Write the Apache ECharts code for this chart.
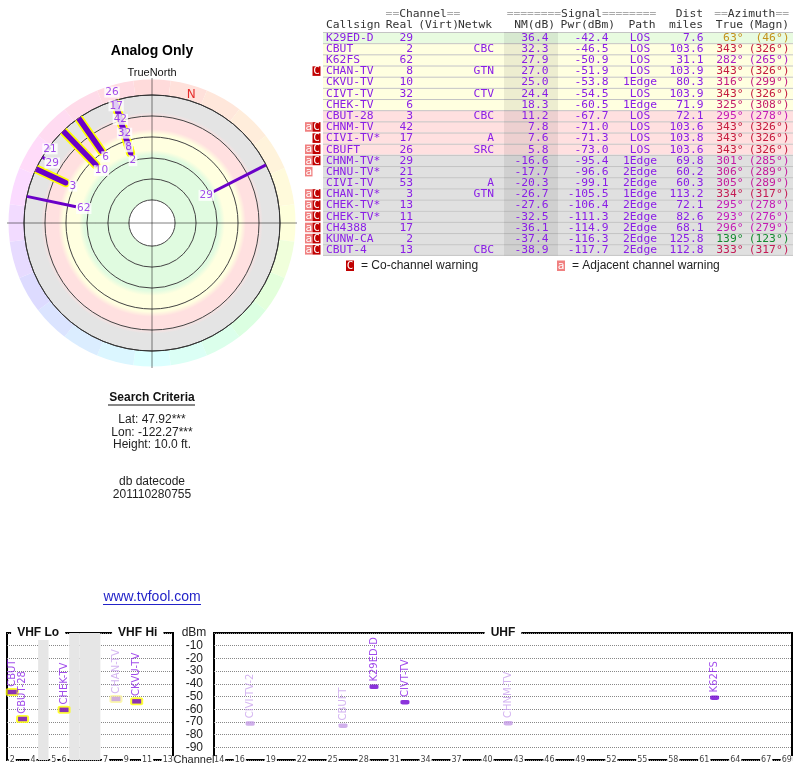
<!DOCTYPE html>
<html>
<head>
<meta charset="utf-8">
<script src="https://cdn.jsdelivr.net/npm/echarts@6/dist/echarts.min.js"></script>
<style>
html, body { margin: 0; padding: 0; background: #fff; }
#chart { width: 800px; height: 768px; }
</style>
</head>
<body>
<div id="chart"></div>
<script>
// station table, in the order of the listing
var callsigns = ['K29ED-D', 'CBUT', 'K62FS', 'CHAN-TV', 'CKVU-TV', 'CIVT-TV', 'CHEK-TV', 'CBUT-28', 'CHNM-TV', 'CIVI-TV*',
                 'CBUFT', 'CHNM-TV*', 'CHNU-TV*', 'CIVI-TV', 'CHAN-TV*', 'CHEK-TV*', 'CHEK-TV*', 'CH4388', 'KUNW-CA', 'CBUT-4'];
var realCh   = [29, 2, 62, 8, 10, 32, 6, 3, 42, 17, 26, 29, 21, 53, 3, 13, 11, 17, 2, 13];
var networks = ['', 'CBC', '', 'GTN', '', 'CTV', '', 'CBC', '', 'A', 'SRC', '', '', 'A', 'GTN', '', '', '', '', 'CBC'];
var nmDb     = [36.4, 32.3, 27.9, 27.0, 25.0, 24.4, 18.3, 11.2, 7.8, 7.6, 5.8, -16.6, -17.7, -20.3, -26.7, -27.6, -32.5, -36.1, -37.4, -38.9];
var pwrDbm   = [-42.4, -46.5, -50.9, -51.9, -53.8, -54.5, -60.5, -67.7, -71.0, -71.3, -73.0, -95.4, -96.6, -99.1, -105.5, -106.4, -111.3, -114.9, -116.3, -117.7];
var paths    = ['LOS', 'LOS', 'LOS', 'LOS', '1Edge', 'LOS', '1Edge', 'LOS', 'LOS', 'LOS', 'LOS', '1Edge', '2Edge', '2Edge', '1Edge', '2Edge', '2Edge', '2Edge', '2Edge', '2Edge'];
var distMi   = [7.6, 103.6, 31.1, 103.9, 80.3, 103.9, 71.9, 72.1, 103.6, 103.8, 103.6, 69.8, 60.2, 60.3, 113.2, 72.1, 82.6, 68.1, 125.8, 112.8];
var azTrue   = [63, 343, 282, 343, 316, 343, 325, 295, 343, 343, 343, 301, 306, 305, 334, 295, 293, 296, 139, 333];
var azMagn   = [46, 326, 265, 326, 299, 326, 308, 278, 326, 326, 326, 285, 289, 289, 317, 278, 276, 279, 123, 317];
var warnings = ['', '', '', 'C', '', '', '', '', 'aC', 'C', 'aC', 'aC', 'a', '', 'aC', 'aC', 'aC', 'aC', 'aC', 'aC'];

// NM thresholds of the colour bands and the radar rings
var NM_GREEN = 35, NM_YELLOW = 15, NM_PINK = 0, NM_INNER = 80;
var R_MIN = -20, R_MAX = 102, RING_STEP = 20;

// spectrum axes
var vhfSlots = ['2', '3', '4', 'gap', '5', '6', 'gap', 'gap', 'gap', '7', '8', '9', '10', '11', '12', '13'];
var vhfTickLabels = ['2', '4', '5', '6', '7', '9', '11', '13'];
var uhfTickLabels = ['14', '16', '19', '22', '25', '28', '31', '34', '37', '40', '43', '46', '49', '52', '55', '58', '61', '64', '67', '69'];
var uhfSlots = [];
for (var c = 14; c <= 69; c++) uhfSlots.push(String(c));

var MONO = '"DejaVu Sans Mono"', SANS = '"Liberation Sans"';
var PURPLE = '#8a1ee6', PALE = '#c9a2ee', LINE = '#6a00c8';
var CX = 152, CY = 223, R = 128, RING = 143.5;
var PX = R / (R_MAX - R_MIN);

function hueOf(az) {
  var a = [[0, 0], [63, 42], [90, 62], [135, 130], [180, 180], [225, 225], [270, 278], [300, 310], [343, 348], [360, 360]];
  for (var i = 1; i < a.length; i++) {
    if (az <= a[i][0]) {
      var t = (az - a[i - 1][0]) / (a[i][0] - a[i - 1][0]);
      return a[i - 1][1] + t * (a[i][1] - a[i - 1][1]);
    }
  }
  return 0;
}
function azColor(az) {
  var h = hueOf(az);
  var g = Math.max(0, Math.cos((h - 130) * Math.PI / 180));
  return 'hsl(' + h.toFixed(0) + ',75%,' + (44 - 13 * g).toFixed(0) + '%)';
}
function bandColor(nm) {
  if (nm >= NM_GREEN) return '#e8fbe0';
  if (nm >= NM_YELLOW) return '#ffffe0';
  if (nm >= NM_PINK) return '#ffe0e0';
  return '#e0e0e0';
}
function frac(nm) { return (R_MAX - nm) / (R_MAX - R_MIN); }

// ---------- radar: band background and hue ring
var bandStops = [
  { offset: 0, color: '#ffffff' },
  { offset: frac(NM_INNER), color: '#ffffff' },
  { offset: frac(NM_INNER) + 0.003, color: '#e0fbe0' },
  { offset: frac(NM_GREEN) - 0.02, color: '#e0fbe0' },
  { offset: frac(NM_GREEN) + 0.02, color: '#ffffe0' },
  { offset: frac(NM_YELLOW) - 0.02, color: '#ffffe0' },
  { offset: frac(NM_YELLOW) + 0.02, color: '#ffe0e0' },
  { offset: frac(NM_PINK) - 0.01, color: '#ffe0e0' },
  { offset: frac(NM_PINK) + 0.03, color: '#e4e4e4' },
  { offset: 1, color: '#e4e4e4' }
];
var hueData = [];
for (var k = 0; k < 24; k++) {
  hueData.push({ value: 1, itemStyle: { color: 'hsl(' + hueOf(k * 15).toFixed(0) + ',100%,93%)' } });
}

var series = [
  { type: 'pie', center: [CX, CY], radius: [0, R], silent: true, z: 1, animation: false,
    label: { show: false }, labelLine: { show: false },
    itemStyle: { borderWidth: 0 },
    data: [{ value: 1, itemStyle: { color: { type: 'radial', x: 0.5, y: 0.5, r: 0.5, colorStops: bandStops } } }] },
  { type: 'pie', center: [CX, CY], radius: [R, RING], startAngle: 97.5, silent: true, z: 1, animation: false,
    label: { show: false }, labelLine: { show: false },
    itemStyle: { borderWidth: 0 }, data: hueData }
];

// ---------- radar: station lines
var drawn = [];
nmDb.forEach(function (nm, i) { if (nm > R_MIN) drawn.push(i); });
drawn.forEach(function (i) {
  var seg = [[R_MIN, azTrue[i]], [nmDb[i], azTrue[i]]];
  var base = { type: 'line', coordinateSystem: 'polar', polarIndex: 0, data: seg, symbol: 'none',
               silent: true, clip: false, animation: false };
  if (realCh[i] <= 13) {
    series.push(Object.assign({}, base, { z: 3, lineStyle: { color: '#ffff00', width: 9, cap: 'round' } }));
    series.push(Object.assign({}, base, { z: 4, lineStyle: { color: LINE, width: 5.5, cap: 'round' } }));
  } else {
    series.push(Object.assign({}, base, { z: 5, lineStyle: { color: LINE, width: 3, cap: 'butt' } }));
  }
});

// channel labels at the inner end of each line, pushed outward where they collide
var order = drawn.slice().sort(function (a, b) { return nmDb[b] - nmDb[a]; });
var placed = [], labelData = [];
function gap(r1, a1, r2, a2) {
  var d = (a1 - a2) * Math.PI / 180;
  return Math.sqrt(r1 * r1 + r2 * r2 - 2 * r1 * r2 * Math.cos(d));
}
order.forEach(function (i) {
  var r = (R_MAX - nmDb[i]) * PX - 8;
  var az = azTrue[i];
  while (placed.some(function (p) { return gap(p.r, p.az, r, az) < 14.2; })) r += 0.5;
  placed.push({ r: r, az: az });
  labelData.push({ name: String(realCh[i]), value: [R_MAX - r / PX, az] });
});
series.push({
  type: 'scatter', coordinateSystem: 'polar', polarIndex: 0, z: 6, silent: true, clip: false,
  symbolSize: 1, itemStyle: { color: 'rgba(0,0,0,0)' },
  label: { show: true, position: 'inside', formatter: '{b}', color: PURPLE, fontFamily: 'DejaVu Sans',
           fontSize: 10.5, backgroundColor: '#ffffff', padding: [0, 1, 0, 1], lineHeight: 11 },
  data: labelData
});
// magnetic north marker
series.push({
  type: 'scatter', coordinateSystem: 'polar', polarIndex: 0, z: 6, silent: true, clip: false,
  symbolSize: 1, itemStyle: { color: 'rgba(0,0,0,0)' },
  label: { show: true, position: 'inside', formatter: 'N', color: '#e00000', fontFamily: 'DejaVu Sans', fontSize: 12 },
  data: [[R_MIN - 6 / PX, azTrue[0] - azMagn[0]]]
});

// ---------- spectrum
var spec = [];
nmDb.forEach(function (nm, i) { if (nm > NM_PINK) spec.push(i); });
function specPoint(i) {
  var pale = warnings[i].indexOf('C') >= 0;
  return { name: callsigns[i].replace('*', '-2'), value: [String(realCh[i]), pwrDbm[i]],
           itemStyle: { color: pale ? '#c49be6' : '#6e00d2' },
           label: { color: pale ? PALE : PURPLE } };
}
function outlinePoint(i) {
  var pale = warnings[i].indexOf('C') >= 0;
  return { value: [String(realCh[i]), pwrDbm[i]], itemStyle: { color: pale ? '#fbf59a' : '#ffff00' } };
}
var vhf = spec.filter(function (i) { return realCh[i] <= 13; });
var uhf = spec.filter(function (i) { return realCh[i] >= 14; });
var specLabel = { show: true, formatter: '{b}', position: 'top', rotate: 90, align: 'left', verticalAlign: 'middle',
                  distance: 3, fontFamily: 'DejaVu Sans', fontSize: 10 };

series.push({
  type: 'bar', xAxisIndex: 0, yAxisIndex: 0, silent: true, z: 2, barWidth: '100%', animation: false,
  itemStyle: { color: '#e6e6e6' },
  data: vhfSlots.map(function (s) { return s === 'gap' ? -100 : '-'; })
});
series.push({
  type: 'scatter', xAxisIndex: 0, yAxisIndex: 0, silent: true, z: 3, symbol: 'roundRect', symbolSize: [13, 8],
  data: vhf.map(outlinePoint)
});
series.push({
  type: 'scatter', xAxisIndex: 0, yAxisIndex: 0, silent: true, z: 4, symbol: 'rect', symbolSize: [9, 4.5],
  label: specLabel, data: vhf.map(specPoint)
});
series.push({
  type: 'scatter', xAxisIndex: 1, yAxisIndex: 1, silent: true, z: 4, symbol: 'roundRect', symbolSize: [9, 4.5],
  label: specLabel, data: uhf.map(specPoint)
});

function xAxisFor(grid, slots, shown) {
  return {
    type: 'category', gridIndex: grid, data: slots, boundaryGap: true, z: 5,
    axisLine: { show: false }, axisTick: { show: false }, splitLine: { show: false },
    axisLabel: {
      interval: function (idx, val) { return shown.indexOf(val) >= 0; },
      margin: 0, verticalAlign: 'middle', fontSize: 8, color: '#444', fontFamily: 'DejaVu Sans',
      backgroundColor: '#ffffff', padding: [0, 1, 0, 1]
    }
  };
}
function yAxisFor(grid, labels) {
  return {
    type: 'value', gridIndex: grid, min: -100, max: 0, interval: 10,
    axisLine: { show: false }, axisTick: { show: false },
    splitLine: { show: true, lineStyle: { type: 'dotted', color: '#888', width: 1 } },
    axisLabel: {
      show: labels, margin: 11, fontSize: 12, color: '#222', fontFamily: 'Liberation Sans',
      formatter: function (v) { return (v === 0 || v === -100) ? '' : String(v); }
    }
  };
}

// ---------- table and texts (graphic)
var g = [];
function txt(x, y, s, font, fill, align, extra) {
  var st = { text: s, font: font, fill: fill, align: align || 'left', verticalAlign: 'middle' };
  if (extra) for (var key in extra) st[key] = extra[key];
  return { type: 'text', x: x, y: y, z: 10, silent: true, style: st };
}
function rect(x, y, w, h, fill, z) {
  return { type: 'rect', z: z || 1, silent: true, shape: { x: x, y: y, width: w, height: h }, style: { fill: fill } };
}
function hline(x1, x2, y, stroke, w, z) {
  return { type: 'line', z: z || 2, silent: true, shape: { x1: x1, y1: y, x2: x2, y2: y }, style: { stroke: stroke, lineWidth: w || 1 } };
}

var TF = '11.3px ' + MONO;
var HEAD = { g: { fill: '#aaaaaa' }, k: { fill: '#333333' } };
g.push(txt(423, 14.5, '{g|==}{k|Channel}{g|==}', TF, '#333', 'center', { rich: HEAD }));
g.push(txt(581.5, 14.5, '{g|========}{k|Signal}{g|========}', TF, '#333', 'center', { rich: HEAD }));
g.push(txt(703, 14.5, 'Dist', TF, '#333', 'right'));
g.push(txt(789, 14.5, '{g|==}{k|Azimuth}{g|==}', TF, '#333', 'right', { rich: HEAD }));
[['Callsign', 326, 'left'], ['Real', 413, 'right'], ['(Virt)', 459, 'right'], ['Netwk', 492, 'right'],
 ['NM(dB)', 555, 'right'], ['Pwr(dBm)', 615, 'right'], ['Path', 642, 'center'], ['miles', 703, 'right'],
 ['True', 743, 'right'], ['(Magn)', 789, 'right']].forEach(function (h) {
  g.push(txt(h[1], 25.5, h[0], TF, '#333', h[2]));
});

var ROW0 = 32, RH = 11.17;
callsigns.forEach(function (cs, i) {
  var top = ROW0 + i * RH, y = top + RH / 2 + 0.3;
  g.push(rect(323, top, 470, RH, bandColor(nmDb[i])));
  g.push(hline(323, 793, top + 0.5, '#c4c4c4', 1));
  var w = warnings[i];
  if (w.indexOf('a') >= 0) {
    g.push(rect(305, top + 0.8, 7.5, RH - 1.6, '#f08080', 3));
    g.push(txt(308.8, y, 'a', '11px ' + MONO, '#fff', 'center'));
  }
  if (w.indexOf('C') >= 0) {
    g.push(rect(312.5, top + 0.8, 8, RH - 1.6, '#c00000', 3));
    g.push(txt(316.5, y, 'C', '11px ' + MONO, '#fff', 'center'));
  }
  g.push(txt(326, y, cs, TF, PURPLE, 'left'));
  g.push(txt(413, y, String(realCh[i]), TF, PURPLE, 'right'));
  g.push(txt(494, y, networks[i], TF, PURPLE, 'right'));
  g.push(txt(548.5, y, nmDb[i].toFixed(1), TF, PURPLE, 'right'));
  g.push(txt(608.5, y, pwrDbm[i].toFixed(1), TF, PURPLE, 'right'));
  g.push(txt(640, y, paths[i], TF, PURPLE, 'center'));
  g.push(txt(703.5, y, distMi[i].toFixed(1), TF, PURPLE, 'right'));
  g.push(txt(743.5, y, azTrue[i] + '\u00b0', TF, azColor(azTrue[i]), 'right'));
  g.push(txt(789.5, y, '(' + azMagn[i] + '\u00b0)', TF, azColor(azTrue[i]), 'right'));
});
var tableBottom = ROW0 + callsigns.length * RH;
g.push(hline(323, 793, tableBottom, '#c4c4c4', 1));
g.push(rect(504, ROW0, 54, tableBottom - ROW0, 'rgba(0,0,0,0.07)', 2));

// legend under the table
g.push(rect(346, 260.5, 8, 10.5, '#c00000', 3));
g.push(txt(350, 266, 'C', '11px ' + MONO, '#fff', 'center'));
g.push(txt(361, 266, '= Co-channel warning', '12px ' + SANS, '#222', 'left'));
g.push(rect(557, 260.5, 8, 10.5, '#f08080', 3));
g.push(txt(561, 266, 'a', '11px ' + MONO, '#fff', 'center'));
g.push(txt(572, 266, '= Adjacent channel warning', '12px ' + SANS, '#222', 'left'));

// left column texts
g.push(txt(CX, 51, 'Analog Only', 'bold 14px ' + SANS, '#000', 'center'));
g.push(txt(CX, 73, 'TrueNorth', '11px ' + SANS, '#111', 'center'));
g.push(txt(CX, 398, 'Search Criteria', 'bold 12px ' + SANS, '#111', 'center'));
g.push(hline(108, 195, 405, '#111', 1.2, 10));
g.push(txt(CX, 420, 'Lat: 47.92***', '12px ' + SANS, '#222', 'center'));
g.push(txt(CX, 432.5, 'Lon: -122.27***', '12px ' + SANS, '#222', 'center'));
g.push(txt(CX, 445, 'Height: 10.0 ft.', '12px ' + SANS, '#222', 'center'));
g.push(txt(CX, 482, 'db datecode', '12px ' + SANS, '#222', 'center'));
g.push(txt(CX, 494.5, '201110280755', '12px ' + SANS, '#222', 'center'));
g.push(txt(CX, 597, 'www.tvfool.com', '14px ' + SANS, '#2323c8', 'center'));
g.push(hline(103, 201, 604.5, '#2323c8', 1, 10));

// spectrum frame titles
var VHF_L = 7, VHF_W = 166, UHF_L = 214, UHF_W = 578, SPEC_T = 633, SPEC_H = 127;
var slotW = VHF_W / vhfSlots.length;
var TITLE = { backgroundColor: '#ffffff', padding: [1, 6, 1, 6] };
g.push(txt(VHF_L + slotW * 3, SPEC_T, 'VHF Lo', 'bold 12px ' + SANS, '#111', 'center', TITLE));
g.push(txt(VHF_L + slotW * 12.6, SPEC_T, 'VHF Hi', 'bold 12px ' + SANS, '#111', 'center', TITLE));
g.push(txt(UHF_L + UHF_W / 2, SPEC_T, 'UHF', 'bold 12px ' + SANS, '#111', 'center', TITLE));
g.push(txt(194, SPEC_T, 'dBm', '12px ' + SANS, '#222', 'center'));
g.push(txt(194, SPEC_T + SPEC_H - 0.5, 'Channel', '11px ' + SANS, '#222', 'center'));

var chart = echarts.init(document.getElementById('chart'), null, { renderer: 'canvas' });
chart.setOption({
  animation: false,
  backgroundColor: '#ffffff',
  polar: [
    { center: [CX, CY], radius: R },
    { center: [CX, CY], radius: 144.5 }
  ],
  angleAxis: [
    { polarIndex: 0, type: 'value', min: 0, max: 360, startAngle: 90, clockwise: true, z: 2,
      axisLine: { show: true, lineStyle: { color: '#333', width: 1 } },
      axisTick: { show: false }, axisLabel: { show: false }, splitLine: { show: false } },
    { polarIndex: 1, type: 'value', min: 0, max: 360, interval: 90, startAngle: 90, clockwise: true, z: 2,
      axisLine: { show: false }, axisTick: { show: false }, axisLabel: { show: false },
      splitLine: { show: true, lineStyle: { type: 'dotted', color: '#000', width: 1 } } }
  ],
  radiusAxis: [
    { polarIndex: 0, type: 'value', min: R_MIN, max: R_MAX, interval: RING_STEP, inverse: true, z: 2,
      axisLine: { show: false }, axisTick: { show: false }, axisLabel: { show: false },
      splitLine: { show: true, lineStyle: { width: 1,
        color: ['#444', '#444', '#444', '#444', '#444', '#444', 'rgba(0,0,0,0)', 'rgba(0,0,0,0)'] } } },
    { polarIndex: 1, type: 'value', min: 0, max: 144.5, show: false }
  ],
  grid: [
    { left: VHF_L, top: SPEC_T, width: VHF_W, height: SPEC_H, show: true, borderColor: '#000', borderWidth: 2,
      backgroundColor: '#fff', outerBoundsMode: 'none' },
    { left: UHF_L, top: SPEC_T, width: UHF_W, height: SPEC_H, show: true, borderColor: '#000', borderWidth: 2,
      backgroundColor: '#fff', outerBoundsMode: 'none' }
  ],
  xAxis: [xAxisFor(0, vhfSlots, vhfTickLabels), xAxisFor(1, uhfSlots, uhfTickLabels)],
  yAxis: [yAxisFor(0, false), yAxisFor(1, true)],
  graphic: { elements: g },
  series: series
});
</script>
</body>
</html>
